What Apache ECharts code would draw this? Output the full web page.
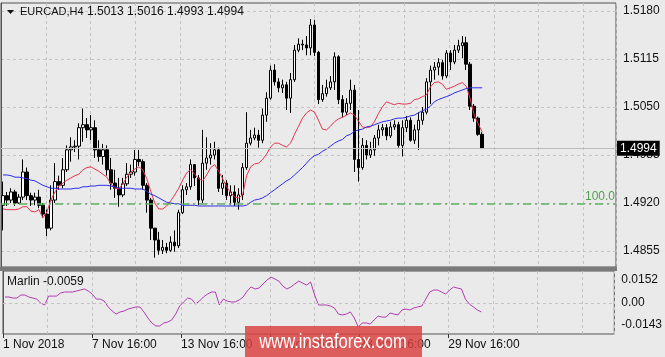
<!DOCTYPE html>
<html><head><meta charset="utf-8">
<script src="https://cdn.jsdelivr.net/npm/echarts@6/dist/echarts.min.js"></script>
<style>html,body{margin:0;padding:0;background:#eaeaea;}#c{width:665px;height:357px;}</style>
</head><body><div id="c"></div>
<script>
const symbolTitle = 'EURCAD,H4';
const quoteTitle = '1.5013 1.5016 1.4993 1.4994';
const opens = [1.4917,1.4930,1.4924,1.4935,1.4920,1.4928,1.4962,1.4930,1.4924,1.4928,
1.4917,1.4905,1.4886,1.4924,1.4949,1.4944,1.4965,1.4992,1.4996,1.4997,
1.5022,1.5026,1.5019,1.5022,1.4992,1.4983,1.4992,1.4965,1.4947,1.4940,
1.4931,1.4946,1.4959,1.4962,1.4979,1.4976,1.4944,1.4924,1.4886,1.4870,
1.4856,1.4860,1.4856,1.4867,1.4862,1.4907,1.4938,1.4942,1.4972,1.4954,
1.4924,1.4974,1.4981,1.4985,1.4992,1.4940,1.4947,1.4930,1.4935,1.4921,
1.4931,1.4968,1.5001,1.5008,1.5012,1.5005,1.5039,1.5062,1.5100,1.5084,
1.5076,1.5080,1.5062,1.5087,1.5127,1.5135,1.5134,1.5130,1.5161,1.5124,
1.5060,1.5068,1.5076,1.5084,1.5118,1.5060,1.5043,1.5055,1.5073,1.4979,
1.4968,1.4998,1.4985,1.4992,1.5008,1.5019,1.5022,1.5011,1.5023,1.5026,
1.4998,1.5022,1.5032,1.5005,1.5019,1.5032,1.5043,1.5084,1.5100,1.5104,
1.5110,1.5092,1.5123,1.5111,1.5127,1.5133,1.5137,1.5108,1.5051,1.5035,
1.5013];
const closes = [1.4930,1.4924,1.4935,1.4920,1.4928,1.4962,1.4930,1.4924,1.4928,1.4917,
1.4905,1.4886,1.4924,1.4949,1.4944,1.4965,1.4992,1.4996,1.4997,1.5022,
1.5026,1.5019,1.5022,1.4992,1.4983,1.4992,1.4965,1.4947,1.4940,1.4931,
1.4946,1.4959,1.4962,1.4979,1.4976,1.4944,1.4924,1.4886,1.4870,1.4856,
1.4860,1.4856,1.4867,1.4862,1.4907,1.4938,1.4942,1.4972,1.4954,1.4924,
1.4974,1.4981,1.4985,1.4992,1.4940,1.4947,1.4930,1.4935,1.4921,1.4931,
1.4968,1.5001,1.5008,1.5012,1.5005,1.5039,1.5062,1.5100,1.5084,1.5076,
1.5080,1.5062,1.5087,1.5127,1.5135,1.5134,1.5130,1.5161,1.5124,1.5060,
1.5068,1.5076,1.5084,1.5118,1.5060,1.5043,1.5055,1.5073,1.4979,1.4968,
1.4998,1.4985,1.4992,1.5008,1.5019,1.5022,1.5011,1.5023,1.5026,1.4998,
1.5022,1.5032,1.5005,1.5019,1.5032,1.5043,1.5084,1.5100,1.5104,1.5110,
1.5092,1.5123,1.5111,1.5127,1.5133,1.5137,1.5108,1.5051,1.5035,1.5013,
1.4994];
const highs = [1.4949,1.4935,1.4940,1.4938,1.4932,1.4979,1.4968,1.4934,1.4934,1.4938,
1.4920,1.4911,1.4944,1.4974,1.4957,1.4981,1.4998,1.5009,1.5005,1.5028,
1.5048,1.5035,1.5039,1.5032,1.5005,1.5000,1.4998,1.4981,1.4965,1.4954,
1.4954,1.4974,1.4972,1.4992,1.4992,1.4979,1.4947,1.4927,1.4886,1.4881,
1.4870,1.4866,1.4875,1.4883,1.4911,1.4944,1.4947,1.4979,1.4972,1.4958,
1.5019,1.5009,1.5001,1.5003,1.4995,1.4958,1.4951,1.4944,1.4944,1.4940,
1.4974,1.5043,1.5019,1.5022,1.5019,1.5048,1.5070,1.5106,1.5108,1.5089,
1.5087,1.5084,1.5096,1.5134,1.5143,1.5141,1.5146,1.5169,1.5168,1.5126,
1.5080,1.5087,1.5092,1.5124,1.5120,1.5066,1.5062,1.5087,1.5080,1.5046,
1.5008,1.5005,1.5003,1.5012,1.5026,1.5027,1.5027,1.5030,1.5032,1.5030,
1.5032,1.5038,1.5036,1.5026,1.5043,1.5050,1.5089,1.5106,1.5111,1.5116,
1.5114,1.5127,1.5127,1.5134,1.5141,1.5146,1.5145,1.5111,1.5054,1.5037,
1.5016];
const lows = [1.4883,1.4916,1.4920,1.4916,1.4919,1.4924,1.4924,1.4916,1.4917,1.4913,
1.4900,1.4875,1.4883,1.4920,1.4938,1.4940,1.4962,1.4976,1.4989,1.4979,
1.5003,1.5008,1.5005,1.4981,1.4976,1.4972,1.4957,1.4938,1.4927,1.4915,
1.4928,1.4943,1.4954,1.4957,1.4970,1.4938,1.4907,1.4870,1.4846,1.4850,
1.4851,1.4852,1.4854,1.4854,1.4859,1.4905,1.4931,1.4938,1.4943,1.4917,
1.4920,1.4965,1.4972,1.4979,1.4935,1.4931,1.4924,1.4917,1.4916,1.4911,
1.4924,1.4965,1.4998,1.5005,1.4995,1.5001,1.5030,1.5060,1.5079,1.5070,
1.5069,1.5046,1.5042,1.5084,1.5124,1.5127,1.5120,1.5120,1.5119,1.5054,
1.5057,1.5064,1.5073,1.5073,1.5054,1.5036,1.5039,1.5046,1.4962,1.4949,
1.4965,1.4979,1.4981,1.4984,1.4998,1.5011,1.5005,1.5008,1.5019,1.4995,
1.4983,1.5016,1.5003,1.5000,1.4992,1.5026,1.5040,1.5054,1.5087,1.5093,
1.5087,1.5089,1.5100,1.5108,1.5123,1.5116,1.5100,1.5046,1.5030,1.5011,
1.4993];
const maFast = [1.4912,1.4911,1.4911,1.4911,1.4912,1.4915,1.4915,1.4909,1.4908,1.4911,
1.4900,1.4908,1.4924,1.4935,1.4943,1.4947,1.4951,1.4954,1.4957,1.4959,
1.4965,1.4968,1.4969,1.4966,1.4963,1.4959,1.4955,1.4946,1.4940,1.4939,
1.4946,1.4955,1.4962,1.4966,1.4969,1.4965,1.4953,1.4936,1.4920,1.4912,
1.4912,1.4916,1.4923,1.4931,1.4940,1.4951,1.4961,1.4965,1.4959,1.4953,
1.4950,1.4958,1.4968,1.4972,1.4963,1.4953,1.4942,1.4934,1.4928,1.4927,
1.4931,1.4957,1.4969,1.4973,1.4974,1.4979,1.4986,1.4996,1.5001,1.5001,
1.4998,1.4996,1.5001,1.5013,1.5024,1.5035,1.5042,1.5046,1.5043,1.5032,
1.5020,1.5019,1.5024,1.5030,1.5034,1.5036,1.5039,1.5042,1.5039,1.5031,
1.5023,1.5022,1.5023,1.5030,1.5041,1.5050,1.5057,1.5055,1.5053,1.5055,
1.5054,1.5054,1.5055,1.5060,1.5061,1.5064,1.5066,1.5077,1.5083,1.5084,
1.5081,1.5074,1.5076,1.5078,1.5081,1.5083,1.5078,1.5061,1.5039,1.5027,
1.5016];
const maSlow = [1.4958,1.4958,1.4957,1.4955,1.4955,1.4954,1.4953,1.4951,1.4950,1.4947,
1.4944,1.4942,1.4940,1.4940,1.4939,1.4939,1.4939,1.4939,1.4940,1.4940,
1.4942,1.4942,1.4943,1.4943,1.4944,1.4944,1.4944,1.4943,1.4942,1.4940,
1.4940,1.4940,1.4940,1.4939,1.4939,1.4939,1.4936,1.4932,1.4930,1.4927,
1.4924,1.4921,1.4920,1.4919,1.4919,1.4917,1.4917,1.4917,1.4917,1.4916,
1.4916,1.4916,1.4916,1.4916,1.4916,1.4916,1.4916,1.4916,1.4916,1.4916,
1.4916,1.4917,1.4921,1.4924,1.4925,1.4927,1.4930,1.4934,1.4938,1.4942,
1.4946,1.4950,1.4953,1.4958,1.4963,1.4968,1.4974,1.4980,1.4984,1.4986,
1.4990,1.4993,1.4997,1.5001,1.5004,1.5006,1.5011,1.5013,1.5017,1.5019,
1.5020,1.5023,1.5024,1.5026,1.5028,1.5030,1.5031,1.5032,1.5034,1.5035,
1.5035,1.5036,1.5038,1.5039,1.5042,1.5045,1.5047,1.5051,1.5057,1.5060,
1.5062,1.5064,1.5066,1.5069,1.5071,1.5073,1.5075,1.5076,1.5076,1.5076,
1.5076];
const marlin = [0.0040,0.0040,0.0033,0.0033,0.0053,0.0053,0.0040,0.0033,0.0026,0.0000,
-0.0013,0.0046,0.0046,0.0046,0.0066,0.0073,0.0073,0.0073,0.0079,0.0086,
0.0093,0.0079,0.0059,0.0026,0.0026,0.0013,-0.0026,-0.0053,-0.0073,-0.0059,
-0.0053,-0.0040,-0.0033,-0.0026,-0.0026,-0.0059,-0.0099,-0.0132,-0.0152,-0.0152,
-0.0132,-0.0126,-0.0112,-0.0073,-0.0020,0.0007,0.0033,0.0026,-0.0007,0.0013,
0.0040,0.0059,0.0073,0.0073,-0.0013,0.0026,0.0013,0.0007,0.0007,0.0020,
0.0040,0.0079,0.0106,0.0093,0.0099,0.0126,0.0152,0.0172,0.0159,0.0145,
0.0112,0.0093,0.0106,0.0126,0.0145,0.0132,0.0119,0.0139,0.0053,-0.0013,
-0.0013,-0.0013,-0.0020,-0.0033,-0.0073,-0.0079,-0.0073,-0.0059,-0.0099,-0.0159,
-0.0132,-0.0132,-0.0139,-0.0112,-0.0086,-0.0093,-0.0093,-0.0066,-0.0073,-0.0079,
-0.0046,-0.0040,-0.0046,-0.0033,-0.0026,-0.0020,0.0026,0.0073,0.0086,0.0086,
0.0073,0.0059,0.0086,0.0106,0.0099,0.0093,0.0026,-0.0007,-0.0026,-0.0046,
-0.0059];
const priceTicks = [1.4855, 1.4920, 1.4985, 1.5050, 1.5115, 1.5180];
const marlinTicks = [-0.0143, 0, 0.0152];
const xTickLabels = ['1 Nov 2018', '7 Nov 16:00', '13 Nov 16:00', '19 Nov 16:00', '23 Nov 16:00', '29 Nov 16:00'];
const lastPrice = 1.4994;
const fiboLevel = 1.4919;
const fiboText = '100.0';
const marlinText = 'Marlin -0.0059';
const watermark = 'www.instaforex.com';

// layout constants
const SLOTS = 154;             // chart slots (bars + empty right margin)
const GRID_STEP = 11.218;      // vertical grid spacing in slots
const slotIdx = Array.from({length: SLOTS}, (_, i) => i);
const labelPos = xTickLabels.map((_, k) => k * 2 * GRID_STEP);
const candles = opens.map((o, i) => [o, closes[i], lows[i], highs[i]]);

const FONT = 'Liberation Sans';
const dash = {color: '#c3c3c3', type: [3, 3], width: 1};

const chart = echarts.init(document.getElementById('c'), null, {renderer: 'canvas'});
chart.setOption({
  animation: false,
  backgroundColor: '#eaeaea',
  grid: [
    {left: 1, top: 3, width: 615, height: 264, show: true, borderColor: '#555', borderWidth: 1, backgroundColor: 'transparent'},
    {left: 1, top: 271, width: 615, height: 63, show: true, borderColor: '#555', borderWidth: 1, backgroundColor: 'transparent'}
  ],
  xAxis: [
    {type: 'category', gridIndex: 0, data: slotIdx, show: false},
    {type: 'value', gridIndex: 0, min: 0, max: SLOTS, interval: GRID_STEP,
     axisLine: {show: false}, axisTick: {show: false}, axisLabel: {show: false},
     splitLine: {show: true, lineStyle: dash}},
    {type: 'category', gridIndex: 1, data: slotIdx, show: false},
    {type: 'value', gridIndex: 1, min: 0, max: SLOTS, interval: GRID_STEP,
     axisLine: {show: false}, axisTick: {show: false}, axisLabel: {show: false},
     splitLine: {show: true, lineStyle: dash}},
    {type: 'value', gridIndex: 1, min: 0, max: SLOTS, position: 'bottom',
     axisLine: {show: false},
     axisTick: {show: true, customValues: labelPos, length: 4, lineStyle: {color: '#333'}},
     axisLabel: {customValues: labelPos, align: 'left', margin: 5, color: '#111', fontSize: 12, fontFamily: FONT,
       formatter: v => xTickLabels[Math.round(v / (2 * GRID_STEP))] || ''},
     splitLine: {show: false}}
  ],
  yAxis: [
    {type: 'value', gridIndex: 0, position: 'right', min: 1.48334, max: 1.51908,
     axisLine: {show: true, lineStyle: {color: '#555'}},
     axisTick: {show: false, customValues: priceTicks},
     axisLabel: {customValues: priceTicks, margin: 7, color: '#111', fontSize: 12, fontFamily: FONT,
       formatter: v => v.toFixed(4)},
     splitLine: {show: true, lineStyle: dash}},
    {type: 'value', gridIndex: 1, position: 'right', min: -0.0205, max: 0.0212,
     axisLine: {show: true, lineStyle: {color: '#555'}},
     axisTick: {show: false},
     axisLabel: {customValues: marlinTicks, margin: 7, color: '#111', fontSize: 12, fontFamily: FONT,
       formatter: v => (Math.abs(v) < 1e-9 ? '0.00' : v.toFixed(4))},
     splitLine: {show: false}}
  ],
  series: [
    {type: 'candlestick', xAxisIndex: 0, yAxisIndex: 0, data: candles, barWidth: 3,
     itemStyle: {color: '#ffffff', color0: '#000000', borderColor: '#000000', borderColor0: '#000000', borderWidth: 1},
     markLine: {silent: true, symbol: 'none', animation: false, precision: 4,
       data: [
         {yAxis: lastPrice, lineStyle: {color: '#bdbdbd', type: 'solid', width: 1},
          label: {show: true, position: 'end', distance: 1, formatter: lastPrice.toFixed(4), color: '#fff',
            backgroundColor: '#000', padding: [2, 3, 1, 3], fontSize: 12, fontFamily: FONT}},
         {yAxis: fiboLevel, lineStyle: {color: '#62b262', type: [8, 4, 2, 4], width: 1.5},
          label: {show: true, position: 'insideEndTop', distance: 1, formatter: fiboText, color: '#4f9f4f',
            fontSize: 12, fontFamily: FONT}}
       ]}},
    {type: 'line', xAxisIndex: 0, yAxisIndex: 0, data: maFast, symbol: 'none',
     lineStyle: {color: '#e8344e', width: 1}, z: 3},
    {type: 'line', xAxisIndex: 0, yAxisIndex: 0, data: maSlow, symbol: 'none',
     lineStyle: {color: '#2b2bf0', width: 1}, z: 3},
    {type: 'line', xAxisIndex: 2, yAxisIndex: 1, data: marlin, symbol: 'none',
     lineStyle: {color: '#b23cb2', width: 1},
     markLine: {silent: true, symbol: 'none', label: {show: false}, precision: 4,
       data: [{yAxis: 0, lineStyle: {color: '#c3c3c3', type: [3, 3], width: 1}}]}}
  ],
  graphic: [
    {type: 'rect', shape: {x: 0, y: 267, width: 617, height: 4}, style: {fill: '#7a7a7a'}, z: 50},
    {type: 'polygon', shape: {points: [[7, 10], [14, 10], [10.5, 14]]}, style: {fill: '#111'}, z: 50},
    {type: 'text', x: 20, y: 12, style: {text: symbolTitle, font: '11px ' + FONT, fill: '#111', textVerticalAlign: 'middle'}, z: 50},
    {type: 'text', x: 87, y: 12, style: {text: quoteTitle, font: '12px ' + FONT, fill: '#111', textVerticalAlign: 'middle'}, z: 50},
    {type: 'text', x: 7, y: 282, style: {text: marlinText, font: '12px ' + FONT, fill: '#111', textVerticalAlign: 'middle'}, z: 50},
    {type: 'rect', shape: {x: 245, y: 326, width: 177, height: 31}, style: {fill: 'rgba(218,62,62,0.82)'}, z: 100},
    {type: 'text', x: 333, y: 342, scaleX: 0.83, originX: 0, originY: 0,
     style: {text: watermark, font: '20px ' + FONT, fill: '#fff', textAlign: 'center', textVerticalAlign: 'middle'}, z: 101}
  ]
});
</script>
</body></html>
